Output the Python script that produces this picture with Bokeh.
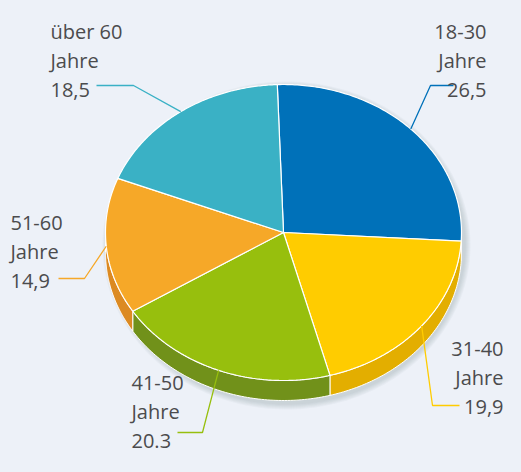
import numpy as np
from bokeh.plotting import figure
from bokeh.models import Range1d
from bokeh.core.properties import value
from bokeh.embed import file_html
from bokeh.resources import INLINE

# ---- data ----
groups = ["18-30", "31-40", "41-50", "51-60", "über 60"]
shares = [26.5, 19.9, 20.3, 14.9, 18.5]
share_labels = ["26,5", "19,9", "20.3", "14,9", "18,5"]
unit = "Jahre"

# ---- style ----
top_colors = ["#0071B9", "#FFCC00", "#97BF0D", "#F6A828", "#3AB1C5"]
side_colors = ["#005A94", "#E3AE00", "#71911A", "#DC8A22", "#2C8E9E"]
BG = "#EDF1F8"
TXT = "#4B4B4D"

cx, cy, rx, ry, depth = 283.0, 232.0, 178.0, 148.0, 20.0
start = 92.0

# label layout: (text x, first baseline, align, line start x, elbow x, line y)
layout = [
    (486, 31, "right", 453, 430, 85),
    (503, 348, "right", 459, 432, 405),
    (131, 382, "left", 177, 202, 432),
    (10, 222, "left", 58, 84, 278),
    (50, 31, "left", 96, 133, 85),
]

p = figure(width=505, height=456, output_backend="svg", toolbar_location=None,
           x_range=Range1d(0, 505), y_range=Range1d(456, 0), min_border=0)
p.axis.visible = False
p.grid.visible = False
p.outline_line_color = None
p.background_fill_color = BG
p.border_fill_color = BG

vals = np.array(shares, dtype=float)
frac = vals / vals.sum()
ends = start - np.cumsum(frac) * 360.0
starts = np.concatenate([[start], ends[:-1]])


def ex(t):
    return cx + rx * np.cos(np.radians(t))


def ey(t):
    return cy - ry * np.sin(np.radians(t))


# shadow
for k in range(6, 0, -1):
    t = np.linspace(0, 360, 200)
    xs = cx + 3 + (rx + k) * np.cos(np.radians(t))
    ys = cy + depth / 2 + 3 - (ry + depth / 2 + k) * np.sin(np.radians(t))
    p.patch(xs, ys, fill_color="#7a8290", fill_alpha=0.05, line_color=None)

# side walls (front half only)
sx, sy, sc = [], [], []
for a0, a1, col in zip(starts, ends, side_colors):
    lo, hi = max(a1, -180.0), min(a0, 0.0)
    if hi <= lo:
        continue
    t = np.linspace(lo, hi, 80)
    xs = np.concatenate([ex(t), ex(t[::-1])])
    ys = np.concatenate([ey(t), ey(t[::-1]) + depth])
    sx.append(list(xs)); sy.append(list(ys)); sc.append(col)
p.patches(sx, sy, fill_color=sc, line_color="white", line_width=1)

# top faces
tx, ty = [], []
for a0, a1 in zip(starts, ends):
    t = np.linspace(a0, a1, 120)
    tx.append([cx] + list(ex(t)))
    ty.append([cy] + list(ey(t)))
p.patches(tx, ty, fill_color=top_colors, line_color="white", line_width=1.2)

# labels and leader lines
for g, lab, a0, a1, col, lay in zip(groups, share_labels, starts, ends, top_colors, layout):
    x, b, align, lx0, lx1, ly = lay
    mid = (a0 + a1) / 2.0
    p.line([lx0, lx1, ex(mid)], [ly, ly, ey(mid)], line_color=col, line_width=1.3)
    p.text(x=[x, x, x], y=[b, b + 29, b + 58], text=[g, unit, lab],
           text_align=align, text_baseline="alphabetic",
           text_font=value("Open Sans"), text_font_size="20px", text_color=TXT)

html = file_html(p, INLINE)
html = html.replace("<body>", '<body style="background:%s">' % BG)
open("out.html", "w").write(html)
